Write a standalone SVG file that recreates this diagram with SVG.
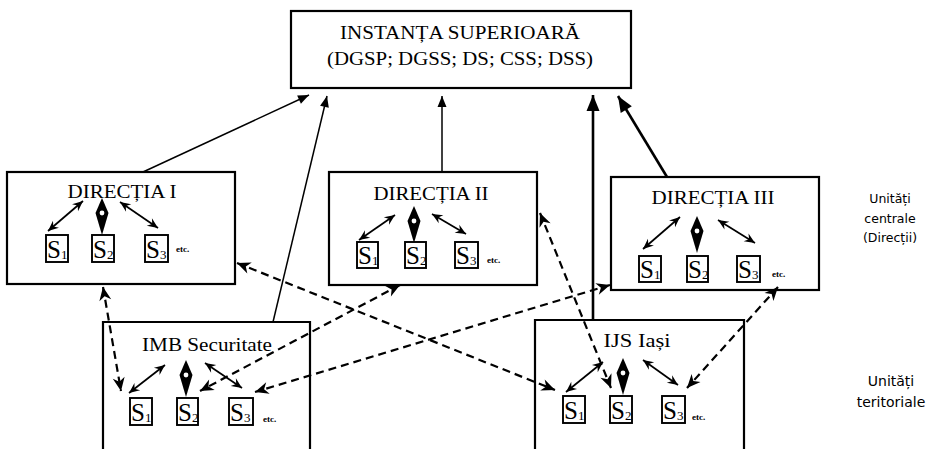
<svg xmlns="http://www.w3.org/2000/svg" width="930" height="449" viewBox="0 0 930 449">
<style>
.box{fill:#fff;stroke:#000;stroke-width:2.2}
.open{fill:none;stroke:#000;stroke-width:2.2}
.sb{fill:#fff;stroke:#000;stroke-width:1.9}
.t{font-family:"Liberation Serif","Times New Roman",serif;font-size:18px;fill:#000;text-anchor:middle}
.s{font-family:"Liberation Serif","Times New Roman",serif;font-size:25px;fill:#000}
.sub{font-size:13px}
.etc{font-family:"Liberation Serif",serif;font-size:9px;font-weight:bold;fill:#000}
.side{font-family:"DejaVu Sans",sans-serif;fill:#000;text-anchor:middle}
.thin{stroke:#000;stroke-width:1.5;fill:none;marker-end:url(#ah)}
.thick{stroke:#000;stroke-width:2.6;fill:none;marker-end:url(#ahb)}
.dash{stroke:#000;stroke-width:2.2;stroke-dasharray:8 5;fill:none;marker-start:url(#ahd);marker-end:url(#ahd)}
.inn{stroke:#000;stroke-width:1.7;fill:none;marker-start:url(#ahi);marker-end:url(#ahi)}
</style>
<defs>
<marker id="ah" viewBox="-12 -6 13 12" markerWidth="13" markerHeight="12" refX="0" refY="0" markerUnits="userSpaceOnUse" orient="auto"><path d="M0,0 L-11,-4.5 L-11,4.5 Z" fill="#000"/></marker>
<marker id="ahb" viewBox="-17 -8 18 16" markerWidth="18" markerHeight="16" refX="0" refY="0" markerUnits="userSpaceOnUse" orient="auto"><path d="M0,0 L-16,-6.5 L-16,6.5 Z" fill="#000"/></marker>
<marker id="ahd" viewBox="-15 -8 16 16" markerWidth="16" markerHeight="16" refX="0" refY="0" markerUnits="userSpaceOnUse" orient="auto-start-reverse"><path d="M0,0 L-13.5,-6 L-9.5,0 L-13.5,6 Z" fill="#000"/></marker>
<marker id="ahi" viewBox="-12 -6 13 12" markerWidth="13" markerHeight="12" refX="0" refY="0" markerUnits="userSpaceOnUse" orient="auto-start-reverse"><path d="M0,0 L-10.5,-4.6 L-7,0 L-10.5,4.6 Z" fill="#000"/></marker>
<g id="diamond"><path d="M0,0 L6.5,15 L0,37 L-6.5,15 Z" fill="#000"/><circle cx="0" cy="15" r="2.4" fill="#fff"/></g>
</defs>

<g id="connectors">
<line class="thin" x1="143" y1="172" x2="309" y2="95"/>
<line class="thin" x1="273" y1="322" x2="327" y2="96"/>
<line class="thin" x1="442" y1="172" x2="442" y2="96"/>
<line class="thick" x1="593" y1="320" x2="593" y2="95"/>
<line class="thick" x1="667" y1="177" x2="618" y2="96"/>
</g>

<g id="instanta">
<rect class="box" x="291" y="11" width="340" height="77"/>
<text class="t" x="460" y="39" textLength="240" lengthAdjust="spacingAndGlyphs">INSTANȚA SUPERIOARĂ</text>
<text class="t" x="460" y="65" textLength="266" lengthAdjust="spacingAndGlyphs">(DGSP; DGSS; DS; CSS; DSS)</text>
</g>

<g id="directia1">
<rect class="box" x="7" y="172" width="228" height="112"/>
<text class="t" x="122" y="198" textLength="109" lengthAdjust="spacingAndGlyphs">DIRECȚIA I</text>
<line class="inn" x1="83" y1="201" x2="48" y2="231"/>
<use href="#diamond" x="102" y="198"/>
<line class="inn" x1="120" y1="202" x2="158" y2="228"/>
<rect class="sb" x="46" y="235" width="22" height="27"/><text class="s" x="47" y="258">S<tspan class="sub" dy="1">1</tspan></text>
<rect class="sb" x="92" y="235" width="22" height="27"/><text class="s" x="93" y="258">S<tspan class="sub" dy="1">2</tspan></text>
<rect class="sb" x="145" y="235" width="23" height="27"/><text class="s" x="146" y="258">S<tspan class="sub" dy="1">3</tspan></text>
<text class="etc" x="176" y="252">etc.</text>
</g>

<g id="directia2">
<rect class="box" x="329" y="172" width="208" height="113"/>
<text class="t" x="431" y="200" textLength="115" lengthAdjust="spacingAndGlyphs">DIRECȚIA II</text>
<line class="inn" x1="395" y1="215" x2="359" y2="240"/>
<use href="#diamond" x="414" y="206"/>
<line class="inn" x1="432" y1="214" x2="466" y2="234"/>
<rect class="sb" x="357" y="242" width="21" height="26"/><text class="s" x="358" y="264">S<tspan class="sub" dy="1">1</tspan></text>
<rect class="sb" x="405" y="242" width="21" height="26"/><text class="s" x="406" y="264">S<tspan class="sub" dy="1">2</tspan></text>
<rect class="sb" x="455" y="242" width="23" height="26"/><text class="s" x="456" y="264">S<tspan class="sub" dy="1">3</tspan></text>
<text class="etc" x="487" y="263">etc.</text>
</g>

<g id="directia3">
<rect class="box" x="611" y="177" width="208" height="113"/>
<text class="t" x="713" y="204" textLength="123" lengthAdjust="spacingAndGlyphs">DIRECȚIA III</text>
<line class="inn" x1="680" y1="217" x2="643" y2="249"/>
<use href="#diamond" x="697" y="216"/>
<line class="inn" x1="718" y1="220" x2="755" y2="243"/>
<rect class="sb" x="639" y="256" width="22" height="26"/><text class="s" x="640" y="278">S<tspan class="sub" dy="1">1</tspan></text>
<rect class="sb" x="687" y="256" width="21" height="26"/><text class="s" x="688" y="278">S<tspan class="sub" dy="1">2</tspan></text>
<rect class="sb" x="737" y="256" width="23" height="26"/><text class="s" x="738" y="278">S<tspan class="sub" dy="1">3</tspan></text>
<text class="etc" x="772" y="277">etc.</text>
</g>

<g id="imb">
<path class="open" d="M103,450 V322 H310 V450"/>
<text class="t" x="207" y="351" textLength="130" lengthAdjust="spacingAndGlyphs">IMB Securitate</text>
<line class="inn" x1="165" y1="365" x2="129" y2="393"/>
<use href="#diamond" x="186" y="360"/>
<line class="inn" x1="205" y1="363" x2="242" y2="388"/>
<rect class="sb" x="130" y="398" width="22" height="27"/><text class="s" x="131" y="421">S<tspan class="sub" dy="1">1</tspan></text>
<rect class="sb" x="177" y="398" width="21" height="27"/><text class="s" x="178" y="421">S<tspan class="sub" dy="1">2</tspan></text>
<rect class="sb" x="229" y="398" width="24" height="27"/><text class="s" x="230" y="421">S<tspan class="sub" dy="1">3</tspan></text>
<text class="etc" x="263" y="422">etc.</text>
</g>

<g id="ijs">
<path class="open" d="M535,450 V320 H744 V450"/>
<text class="t" x="637" y="347" textLength="67" lengthAdjust="spacingAndGlyphs">IJS Iași</text>
<line class="inn" x1="603" y1="362" x2="566" y2="392"/>
<use href="#diamond" x="623" y="358"/>
<line class="inn" x1="643" y1="360" x2="678" y2="385"/>
<rect class="sb" x="563" y="396" width="22" height="27"/><text class="s" x="564" y="419">S<tspan class="sub" dy="1">1</tspan></text>
<rect class="sb" x="610" y="396" width="22" height="27"/><text class="s" x="611" y="419">S<tspan class="sub" dy="1">2</tspan></text>
<rect class="sb" x="662" y="396" width="23" height="27"/><text class="s" x="663" y="419">S<tspan class="sub" dy="1">3</tspan></text>
<text class="etc" x="692" y="420">etc.</text>
</g>

<g id="dashed-connectors">
<line class="dash" x1="103" y1="287" x2="121" y2="391"/>
<line class="dash" x1="237" y1="263" x2="555" y2="390"/>
<line class="dash" x1="400" y1="285" x2="200" y2="391"/>
<line class="dash" x1="610" y1="285" x2="255" y2="392"/>
<line class="dash" x1="540" y1="213" x2="611" y2="388"/>
<line class="dash" x1="778" y1="287" x2="687" y2="388"/>
</g>

<g id="label-centrale">
<text class="side" x="890" y="203" font-size="12.5">Unități</text>
<text class="side" x="890" y="223" font-size="12.5">centrale</text>
<text class="side" x="890" y="242" font-size="12.5">(Direcții)</text>
</g>
<g id="label-teritoriale">
<text class="side" x="891" y="386" font-size="14">Unități</text>
<text class="side" x="891" y="407" font-size="14">teritoriale</text>
</g>
</svg>
